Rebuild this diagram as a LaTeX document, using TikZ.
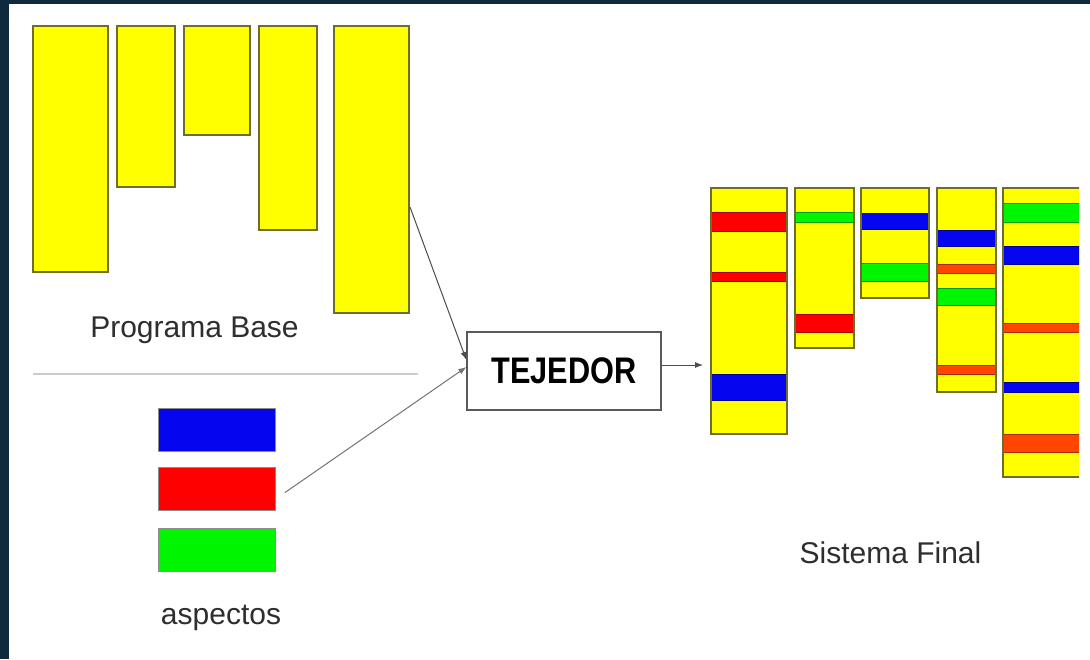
\documentclass[tikz,border=0pt]{standalone}
\usepackage{fontspec}
\setmainfont{Liberation Sans}
\usepackage{graphicx}
\usetikzlibrary{arrows.meta,calc}

\definecolor{frame}{HTML}{0F293D}
\definecolor{ink}{HTML}{2E2E2E}
\definecolor{edge}{HTML}{6E6E28}
\definecolor{byellow}{HTML}{FFFF00}
\definecolor{bred}{HTML}{FF0000}
\definecolor{borange}{HTML}{FF4500}
\definecolor{bblue}{HTML}{0505F0}
\definecolor{bgreen}{HTML}{00F500}

\tikzset{
  block/.style={draw=edge, line width=1.4pt, fill=byellow, inner sep=0pt,
    outer sep=0pt, anchor=north west},
  aspect/.style={draw=black!45, line width=0.6pt, inner sep=0pt, outer sep=0pt,
    anchor=north west, minimum width=117pt, minimum height=43pt},
  band/.style={fill=#1, draw=#1!65!black, line width=0.5pt},
  colframe/.style={draw=edge, line width=1.4pt},
  label/.style={text=ink, anchor=base, inner sep=0pt,
    font=\fontsize{30}{36}\selectfont},
  weaver/.style={draw=black!65, line width=1.2pt, fill=white, inner sep=0pt,
    minimum width=194pt, minimum height=78pt, text=black,
    font=\fontsize{37}{40}\selectfont\bfseries},
  link/.style={draw=black!70, line width=1pt,
    -{Latex[length=8pt,width=6pt]}},
}

\begin{document}
\begin{tikzpicture}[x=1pt,y=-1pt]
  % page and dark frame
  \fill[white] (0,0) rectangle (1090,659);
  \fill[frame] (0,0) rectangle (9,659);
  \fill[frame] (0,0) rectangle (1090,4);
  \useasboundingbox (0,0) rectangle (1090,659);

  % base program modules
  \node[block, minimum width=75pt, minimum height=246pt] (b1) at (33,26) {};
  \node[block, minimum width=58pt, minimum height=161pt] (b2) at (117,26) {};
  \node[block, minimum width=66pt, minimum height=109pt] (b3) at (184,26) {};
  \node[block, minimum width=58pt, minimum height=204pt] (b4) at (259,26) {};
  \node[block, minimum width=75pt, minimum height=287pt] (b5) at (334,26) {};
  \node[label] (base) at (194.5,337) {Programa Base};

  % separator
  \draw[black!20, line width=2pt] (33,374) -- (418,374);

  % aspects
  \node[aspect, fill=bblue] (asA) at (158,408) {};
  \node[aspect, fill=bred] (asB) at (158,467) {};
  \node[aspect, fill=bgreen] (asC) at (158,528) {};
  \node[label] (asp) at (221,624) {aspectos};

  % weaver
  \node[weaver] (tej) at (564,371) {\scalebox{0.83}[1]{TEJEDOR}};

  % woven system columns
  \begin{scope}
    \clip (0,0) rectangle (1079,659);
    % column 1
    \fill[byellow] (711,188) rectangle (787,434);
    \draw[band=bred] (711,212) rectangle (787,231);
    \draw[band=bred] (711,272) rectangle (787,281);
    \draw[band=bblue] (711,374) rectangle (787,400);
    \draw[colframe] (711,188) rectangle (787,434);
    % column 2
    \fill[byellow] (795,188) rectangle (854,348);
    \draw[band=bgreen] (795,212) rectangle (854,222);
    \draw[band=bred] (795,314) rectangle (854,332);
    \draw[colframe] (795,188) rectangle (854,348);
    % column 3
    \fill[byellow] (861,188) rectangle (929,298);
    \draw[band=bblue] (861,213) rectangle (929,229);
    \draw[band=bgreen] (861,263) rectangle (929,281);
    \draw[colframe] (861,188) rectangle (929,298);
    % column 4
    \fill[byellow] (937,188) rectangle (996,392);
    \draw[band=bblue] (937,230) rectangle (996,246);
    \draw[band=borange] (937,264) rectangle (996,273);
    \draw[band=bgreen] (937,288) rectangle (996,305);
    \draw[band=borange] (937,365) rectangle (996,374);
    \draw[colframe] (937,188) rectangle (996,392);
    % column 5
    \fill[byellow] (1003,188) rectangle (1084,477);
    \draw[band=bgreen] (1003,203) rectangle (1084,222);
    \draw[band=bblue] (1003,246) rectangle (1084,264);
    \draw[band=borange] (1003,323) rectangle (1084,332);
    \draw[band=bblue] (1003,382) rectangle (1084,392);
    \draw[band=borange] (1003,434) rectangle (1084,452);
    \draw[colframe] (1003,188) rectangle (1084,477);
  \end{scope}
  \coordinate (sysin) at (703,365);
  \node[label] (fin) at (890.5,563) {Sistema Final};

  % connectors
  \coordinate (fromBase) at ($(b5.north east)+(1,181)$);
  \coordinate (fromAsp) at ($(asB.east)+(10,4)$);
  \draw[link] (fromBase) -- ($(tej.west)+(0,-11)$);
  \draw[link, draw=black!55] (fromAsp) -- ($(tej.west)+(0,-4)$);
  \draw[link] ($(tej.east)+(0,-6)$) -- (sysin);
\end{tikzpicture}
\end{document}
